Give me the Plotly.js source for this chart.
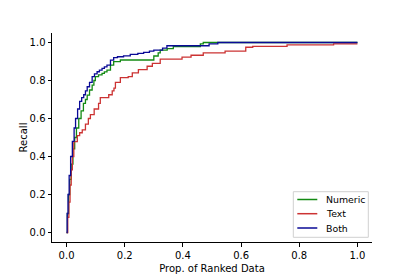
<!DOCTYPE html>
<html>
<head>
<meta charset="utf-8">
<script src="https://cdn.plot.ly/plotly-3.0.1.min.js"></script>
<style>html,body{margin:0;padding:0;background:#fff;}#chart{width:415px;height:277px;}</style>
</head>
<body>
<div id="chart"></div>
<script>
const seriesNames = ["Numeric", "Text", "Both"];
const seriesColors = ["#138a13", "#cc3333", "#0a0a96"];

const numericX = [0, 0.003, 0.007, 0.011, 0.016, 0.022, 0.028, 0.034, 0.042, 0.05, 0.058, 0.065, 0.071, 0.079, 0.088, 0.094, 0.099, 0.11, 0.122, 0.13, 0.139, 0.151, 0.162, 0.185, 0.30, 0.315, 0.322, 0.346, 0.367, 0.46, 0.47, 1.0];
const numericY = [0, 0.1, 0.2, 0.28, 0.36, 0.44, 0.5, 0.55, 0.6, 0.64, 0.68, 0.7, 0.723, 0.75, 0.776, 0.8, 0.82, 0.83, 0.837, 0.845, 0.855, 0.881, 0.899, 0.908, 0.929, 0.945, 0.96, 0.968, 0.978, 0.993, 1.0, 1.0];

const textX = [0, 0.004, 0.008, 0.012, 0.016, 0.02, 0.025, 0.037, 0.045, 0.054, 0.065, 0.075, 0.082, 0.095, 0.11, 0.116, 0.145, 0.157, 0.163, 0.168, 0.185, 0.212, 0.226, 0.247, 0.277, 0.295, 0.322, 0.397, 0.428, 0.47, 0.545, 0.616, 0.64, 0.758, 0.918, 1.0];
const textY = [0, 0.08, 0.16, 0.25, 0.33, 0.4, 0.478, 0.51, 0.525, 0.54, 0.57, 0.6, 0.62, 0.65, 0.68, 0.71, 0.725, 0.745, 0.76, 0.79, 0.815, 0.82, 0.84, 0.857, 0.875, 0.89, 0.913, 0.923, 0.933, 0.945, 0.955, 0.975, 0.98, 0.988, 0.993, 0.993];

const bothX = [0, 0.002, 0.005, 0.009, 0.014, 0.02, 0.026, 0.031, 0.038, 0.045, 0.052, 0.059, 0.065, 0.071, 0.079, 0.088, 0.096, 0.105, 0.113, 0.122, 0.13, 0.139, 0.151, 0.162, 0.175, 0.196, 0.219, 0.245, 0.265, 0.285, 0.30, 0.33, 0.345, 0.49, 0.52, 1.0];
const bothY = [0, 0.1, 0.2, 0.3, 0.4, 0.48, 0.55, 0.6, 0.65, 0.69, 0.71, 0.725, 0.745, 0.767, 0.79, 0.82, 0.835, 0.846, 0.855, 0.864, 0.872, 0.881, 0.907, 0.92, 0.925, 0.93, 0.938, 0.943, 0.948, 0.955, 0.96, 0.97, 0.983, 0.993, 1.0, 1.0];

const tickVals = [0, 0.2, 0.4, 0.6, 0.8, 1.0];
const tickText = ["0.0", "0.2", "0.4", "0.6", "0.8", "1.0"];

const xs = [numericX, textX, bothX];
const ys = [numericY, textY, bothY];

const traces = seriesNames.map((n, i) => ({
  x: xs[i], y: ys[i], name: n, type: "scatter", mode: "lines",
  line: {color: seriesColors[i], width: 1.3, shape: "hv"}, showlegend: false
}));

const font = {family: "DejaVu Sans, sans-serif", size: 10, color: "#000"};
const axisCommon = {
  range: [-0.05, 1.05], tickvals: tickVals, ticktext: tickText,
  showgrid: false, zeroline: false, showline: true, linecolor: "#000", linewidth: 1,
  ticks: "outside", ticklen: 3.5, tickwidth: 1, tickcolor: "#000",
  tickfont: font, mirror: false
};

// Custom legend (matplotlib-style compact spacing), in paper coordinates
const W = 415, H = 277, M = {l: 52, r: 43, t: 33, b: 35};
const pw = W - M.l - M.r, ph = H - M.t - M.b;
const px2x = p => (p - M.l) / pw;
const py2y = p => (H - M.b - p) / ph;
const legBox = {x0: 293.3, x1: 368.3, y0: 191.7, y1: 237.3};
const legRows = [199.5, 213.7, 228];
const shapes = [{
  type: "rect", xref: "paper", yref: "paper",
  x0: px2x(legBox.x0), x1: px2x(legBox.x1), y0: py2y(legBox.y1), y1: py2y(legBox.y0),
  line: {color: "#d0d0d0", width: 1}, fillcolor: "rgba(255,255,255,0.8)"
}];
const annotations = [];
seriesNames.forEach((n, i) => {
  shapes.push({type: "line", xref: "paper", yref: "paper",
    x0: px2x(297.3), x1: px2x(317.3), y0: py2y(legRows[i]), y1: py2y(legRows[i]),
    line: {color: seriesColors[i], width: 1.5}});
  annotations.push({xref: "paper", yref: "paper", x: px2x(323.5), y: py2y(legRows[i]),
    xanchor: "left", yanchor: "middle", text: n, showarrow: false,
    font: {family: "DejaVu Sans, sans-serif", size: 9.4, color: "#000"}});
});

const layout = {
  width: W, height: H,
  margin: M,
  paper_bgcolor: "#fff", plot_bgcolor: "#fff",
  font: font,
  showlegend: false,
  xaxis: Object.assign({}, axisCommon, {title: {text: "Prop. of Ranked Data", font: font, standoff: 5}}),
  yaxis: Object.assign({}, axisCommon, {title: {text: "Recall", font: font, standoff: 0}}),
  shapes: shapes,
  annotations: annotations
};

Plotly.newPlot("chart", traces, layout, {staticPlot: true, displayModeBar: false});
</script>
</body>
</html>
